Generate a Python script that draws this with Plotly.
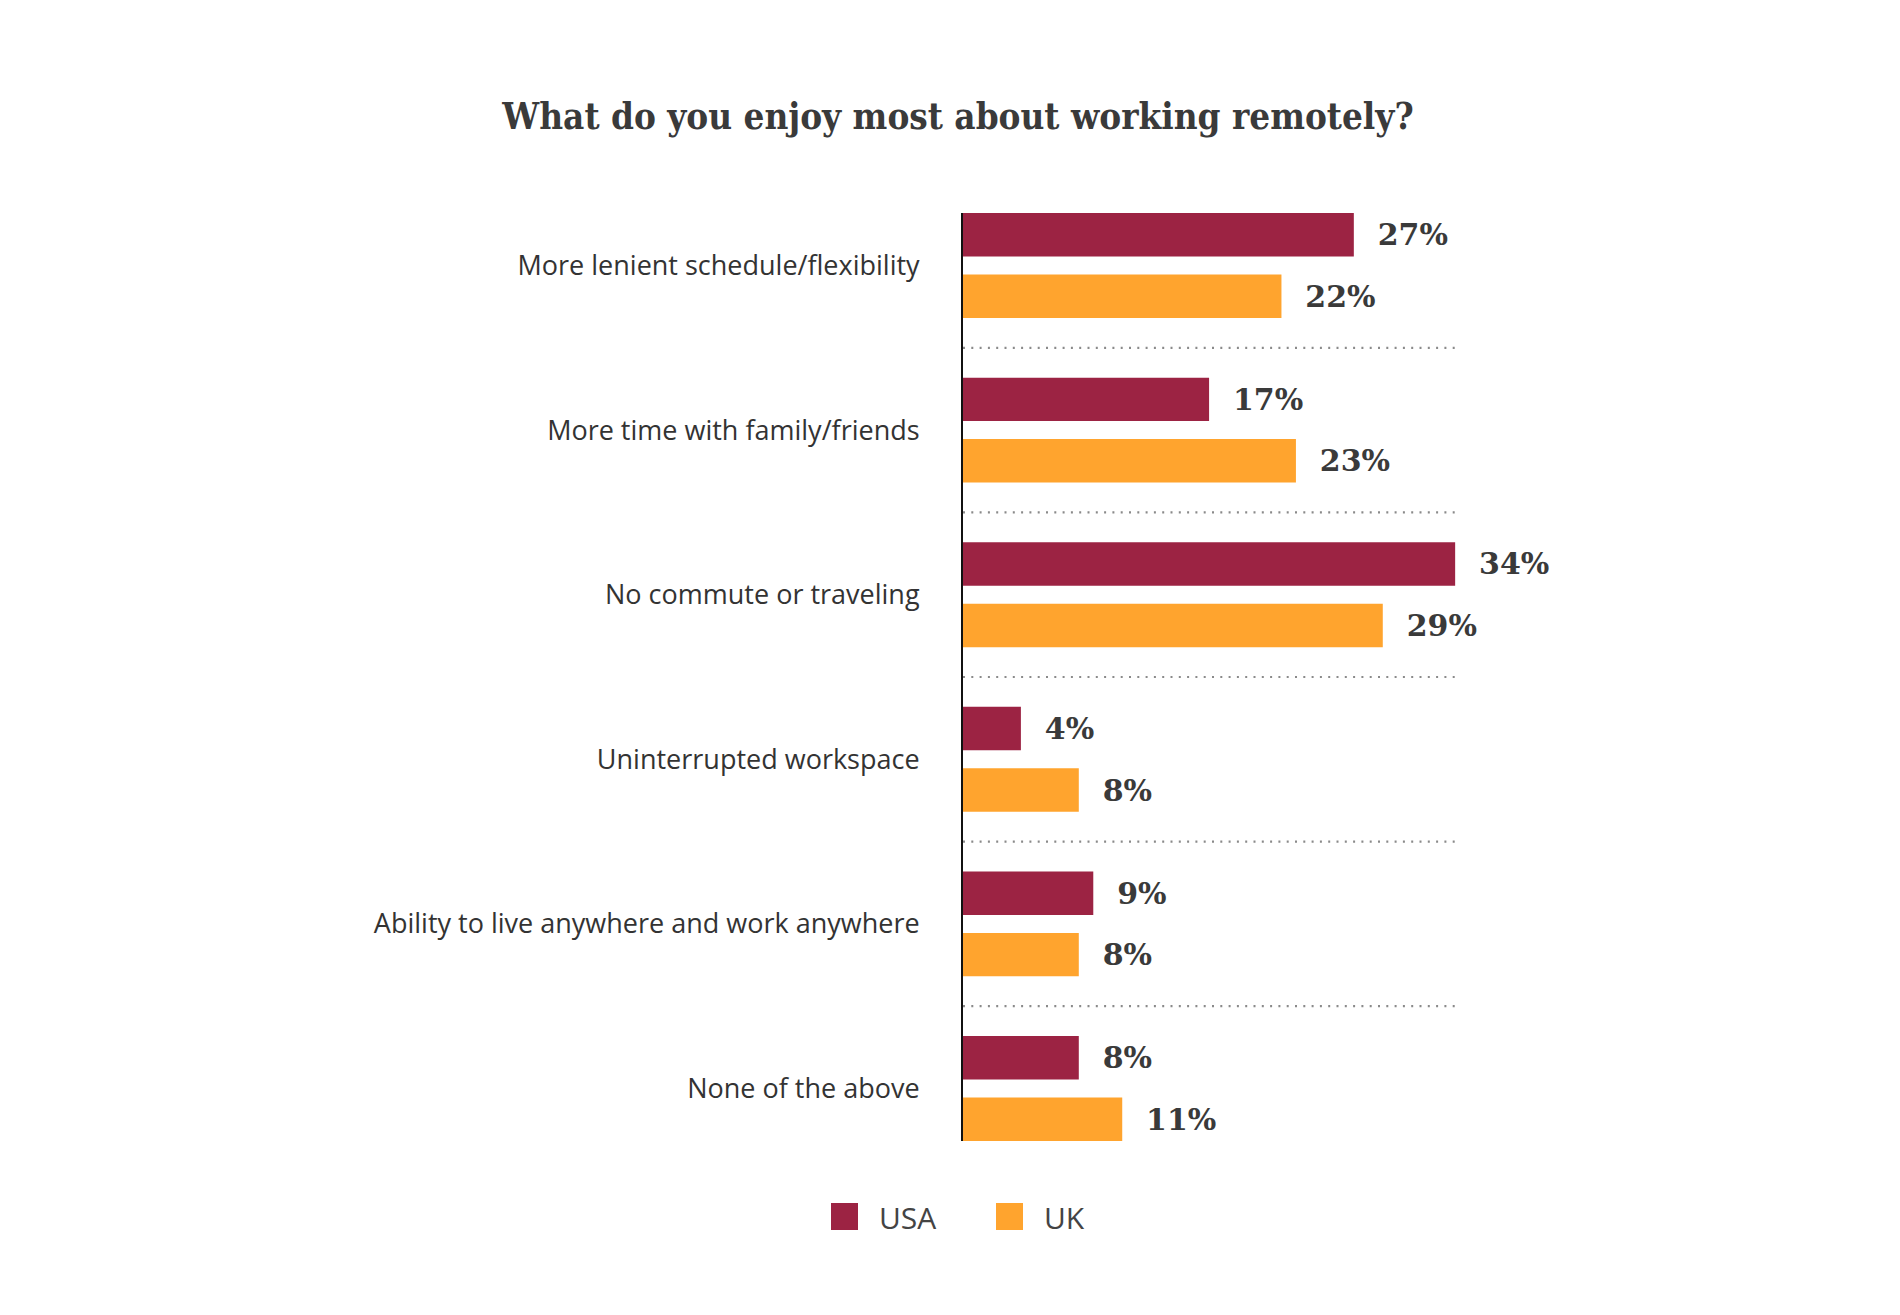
import plotly.graph_objects as go

# survey answers, top to bottom
categories = [
    "More lenient schedule/flexibility",
    "More time with family/friends",
    "No commute or traveling",
    "Uninterrupted workspace",
    "Ability to live anywhere and work anywhere",
    "None of the above",
]
usa = [27, 17, 34, 4, 9, 8]
uk = [22, 23, 29, 8, 8, 11]
series_names = ["USA", "UK"]

usa_color = "#9C2343"
uk_color = "#FFA42E"
text_color = "#3a3a3a"
label_font = dict(family="DejaVu Serif", size=30, color=text_color, weight="bold")

W, H = 1900, 1315
L, R, T, B = 955, 366, 205, 182


def px_to_paper(px, py):
    # pixel position in the page -> paper coords of the plot area
    return (px - L) / (W - L - R), 1 - (py - T) / (H - T - B)


fig = go.Figure()

fig.add_trace(go.Bar(
    y=categories, x=usa, name=series_names[0], orientation="h",
    marker=dict(color=usa_color, line=dict(width=0)),
    texttemplate="\u00a0\u00a0%{x}%", textposition="outside",
    textfont=label_font, cliponaxis=False,
))
fig.add_trace(go.Bar(
    y=categories, x=uk, name=series_names[1], orientation="h",
    marker=dict(color=uk_color, line=dict(width=0)),
    texttemplate="\u00a0\u00a0%{x}%", textposition="outside",
    textfont=label_font, cliponaxis=False,
))

# dotted separators between the groups
sep_end = max(usa + uk)
for i in range(len(categories) - 1):
    fig.add_shape(
        type="line", xref="x", yref="y",
        x0=0, x1=sep_end, y0=i + 0.5, y1=i + 0.5,
        line=dict(color="#8a8a8a", width=2.2, dash="2px,6.3px"),
    )

# legend drawn by hand so the swatches can be large
legend_items = [(series_names[0], usa_color, 823), (series_names[1], uk_color, 988)]
for name, color, left in legend_items:
    x0, y0 = px_to_paper(left, 1195)
    x1, y1 = px_to_paper(left + 27, 1222)
    fig.add_shape(type="rect", xref="paper", yref="paper",
                  x0=x0, x1=x1, y0=y0, y1=y1,
                  fillcolor=color, line=dict(width=0))
    tx, ty = px_to_paper(left + 46, 1209)
    fig.add_annotation(xref="paper", yref="paper", x=tx, y=ty,
                       xanchor="left", yanchor="middle", showarrow=False,
                       text=name,
                       font=dict(family="Open Sans", size=30, color="#444"))

bargap = 0.253
edge = 0.181  # space above the first bar / below the last, in category units
fig.update_layout(
    width=W, height=H,
    paper_bgcolor="white", plot_bgcolor="white",
    barmode="group", bargap=bargap, bargroupgap=0.293,
    margin=dict(l=L, r=R, t=T, b=B, autoexpand=False),
    title=dict(
        text="<b>What do you enjoy most about working remotely?</b>",
        x=0.5, xanchor="center", y=0.918, yanchor="middle",
        font=dict(family="DejaVu Serif Condensed", size=36.5, color=text_color),
    ),
    showlegend=False,
)

fig.update_xaxes(
    range=[0, 40], showgrid=False, zeroline=False,
    showticklabels=False, ticks="", automargin=False,
)
fig.update_yaxes(
    type="category",
    range=[len(categories) - 0.5 - edge, -0.5 + edge],
    showgrid=False, zeroline=False,
    showline=True, linecolor="#111", linewidth=2,
    ticks="", ticklabelstandoff=36, automargin=False,
    tickfont=dict(family="Open Sans", size=27, color="#333"),
)

fig.write_html("out.html")
